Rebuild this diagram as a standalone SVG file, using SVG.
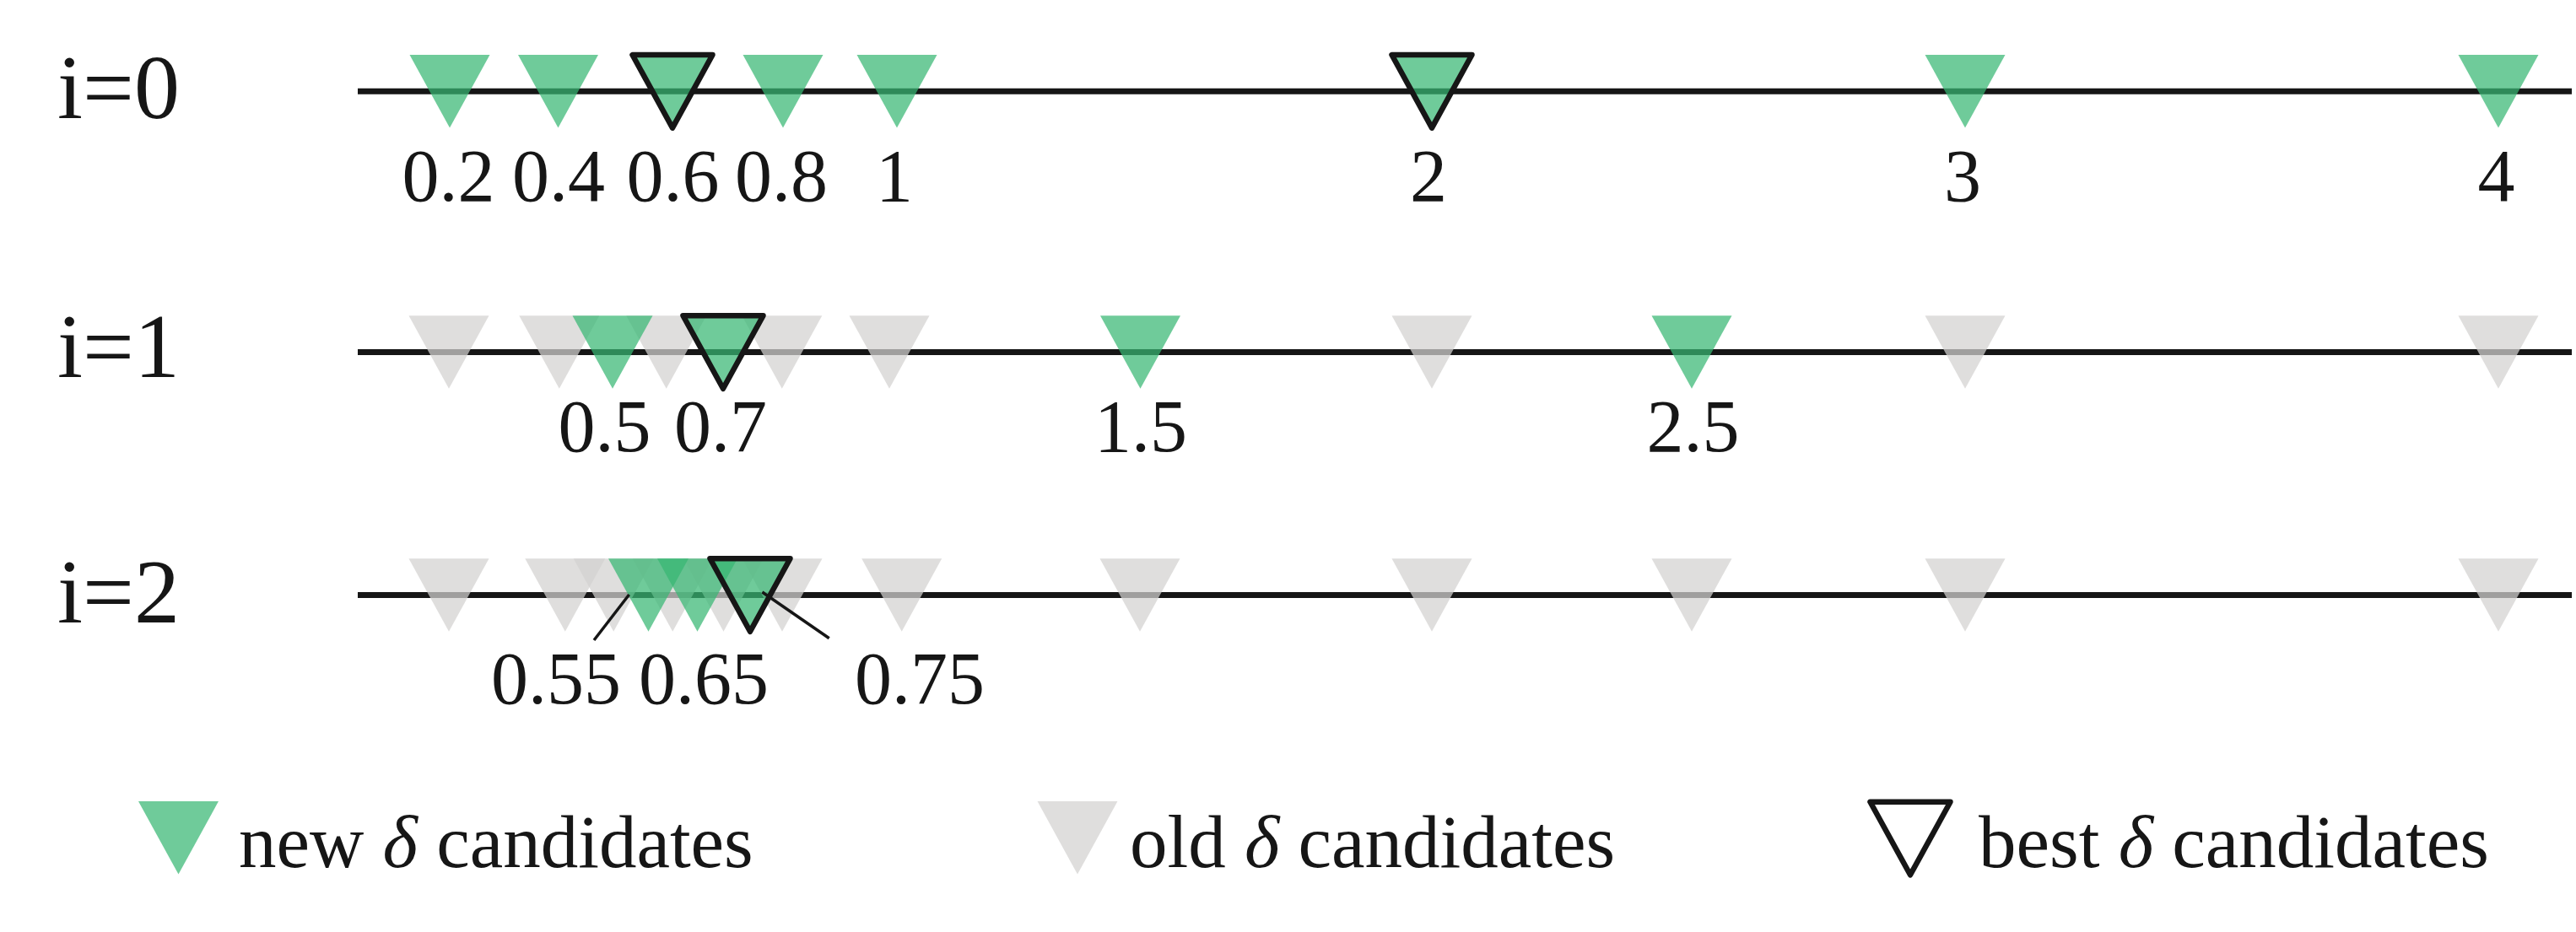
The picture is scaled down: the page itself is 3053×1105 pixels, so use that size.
<svg xmlns="http://www.w3.org/2000/svg" width="3053" height="1105" viewBox="0 0 3053 1105">
<style>
.axis{stroke:#161616;stroke-width:7;fill:none}
.lead{stroke:#161616;stroke-width:3.5;fill:none}
.new{fill:rgb(55,183,115);fill-opacity:0.72}
.old{fill:rgb(211,210,209);fill-opacity:0.73}
.best{fill:rgb(55,183,115);fill-opacity:0.72;stroke:#161616;stroke-width:6.5;stroke-linejoin:round}
.bestlg{fill:none;stroke:#161616;stroke-width:6.5;stroke-linejoin:round}
text{font-family:"Liberation Serif","Times New Roman",serif;fill:#161616}
.num{font-size:88px;text-anchor:middle}
.row{font-size:108px}
.lg{font-size:89px}
</style>
<defs>
<path id="tri" d="M-47.5,-43.3 L47.5,-43.3 L0,43.3 Z"/>
</defs>
<g id="connectors">
<line class="axis" x1="424" y1="108.3" x2="3048" y2="108.3"/>
<line class="axis" x1="424" y1="417.5" x2="3048" y2="417.5"/>
<line class="axis" x1="424" y1="705.5" x2="3048" y2="705.5"/>
</g>
<g id="row-labels">
<text class="row" x="68" y="140">i=0</text>
<text class="row" x="68" y="447">i=1</text>
<text class="row" x="68" y="738">i=2</text>
</g>
<g id="row0">
<use href="#tri" class="new" x="533" y="108.3"/>
<use href="#tri" class="new" x="661.5" y="108.3"/>
<use href="#tri" class="new" x="928" y="108.3"/>
<use href="#tri" class="new" x="1063" y="108.3"/>
<use href="#tri" class="new" x="2329" y="108.3"/>
<use href="#tri" class="new" x="2961" y="108.3"/>
<use href="#tri" class="best" x="797" y="108.3"/>
<use href="#tri" class="best" x="1697" y="108.3"/>
<text class="num" x="531.5" y="238">0.2</text>
<text class="num" x="662" y="238">0.4</text>
<text class="num" x="797.5" y="238">0.6</text>
<text class="num" x="926" y="238">0.8</text>
<text class="num" x="1060" y="238">1</text>
<text class="num" x="1693" y="238">2</text>
<text class="num" x="2326" y="238">3</text>
<text class="num" x="2958.5" y="238">4</text>
</g>
<g id="row1">
<use href="#tri" class="old" x="532" y="417.5"/>
<use href="#tri" class="old" x="662.8" y="417.5"/>
<use href="#tri" class="old" x="789.7" y="417.5"/>
<use href="#tri" class="old" x="926.8" y="417.5"/>
<use href="#tri" class="old" x="1054" y="417.5"/>
<use href="#tri" class="old" x="1697" y="417.5"/>
<use href="#tri" class="old" x="2329" y="417.5"/>
<use href="#tri" class="old" x="2961" y="417.5"/>
<use href="#tri" class="new" x="726" y="417.5"/>
<use href="#tri" class="new" x="1351.5" y="417.5"/>
<use href="#tri" class="new" x="2005" y="417.5"/>
<use href="#tri" class="best" x="857" y="417.5"/>
<text class="num" x="716.5" y="535">0.5</text>
<text class="num" x="854" y="535">0.7</text>
<text class="num" x="1352" y="535">1.5</text>
<text class="num" x="2006.5" y="535">2.5</text>
</g>
<g id="row2">
<use href="#tri" class="old" x="532" y="705.5"/>
<use href="#tri" class="old" x="669.8" y="705.5"/>
<use href="#tri" class="old" x="727.2" y="705.5"/>
<use href="#tri" class="old" x="797.2" y="705.5"/>
<use href="#tri" class="old" x="857.5" y="705.5"/>
<use href="#tri" class="old" x="927" y="705.5"/>
<use href="#tri" class="old" x="1068.7" y="705.5"/>
<use href="#tri" class="old" x="1351" y="705.5"/>
<use href="#tri" class="old" x="1697" y="705.5"/>
<use href="#tri" class="old" x="2005" y="705.5"/>
<use href="#tri" class="old" x="2329" y="705.5"/>
<use href="#tri" class="old" x="2961" y="705.5"/>
<use href="#tri" class="new" x="768.5" y="705.5"/>
<use href="#tri" class="new" x="826.5" y="705.5"/>
<use href="#tri" class="best" x="889" y="705.5"/>
<line class="lead" x1="704" y1="759" x2="745.6" y2="705"/>
<line class="lead" x1="903.4" y1="702" x2="982.7" y2="756.7"/>
<text class="num" x="659" y="834">0.55</text>
<text class="num" x="834" y="834">0.65</text>
<text class="num" x="1090" y="834">0.75</text>
</g>
<g id="legend-new">
<use href="#tri" class="new" x="211.5" y="993.3"/>
<text class="lg" x="283" y="1028">new <tspan font-style="italic">δ</tspan> candidates</text>
</g>
<g id="legend-old">
<use href="#tri" class="old" x="1277" y="993.3"/>
<text class="lg" x="1339" y="1028">old <tspan font-style="italic">δ</tspan> candidates</text>
</g>
<g id="legend-best">
<use href="#tri" class="bestlg" x="2264" y="994"/>
<text class="lg" x="2345" y="1028">best <tspan font-style="italic">δ</tspan> candidates</text>
</g>
</svg>
